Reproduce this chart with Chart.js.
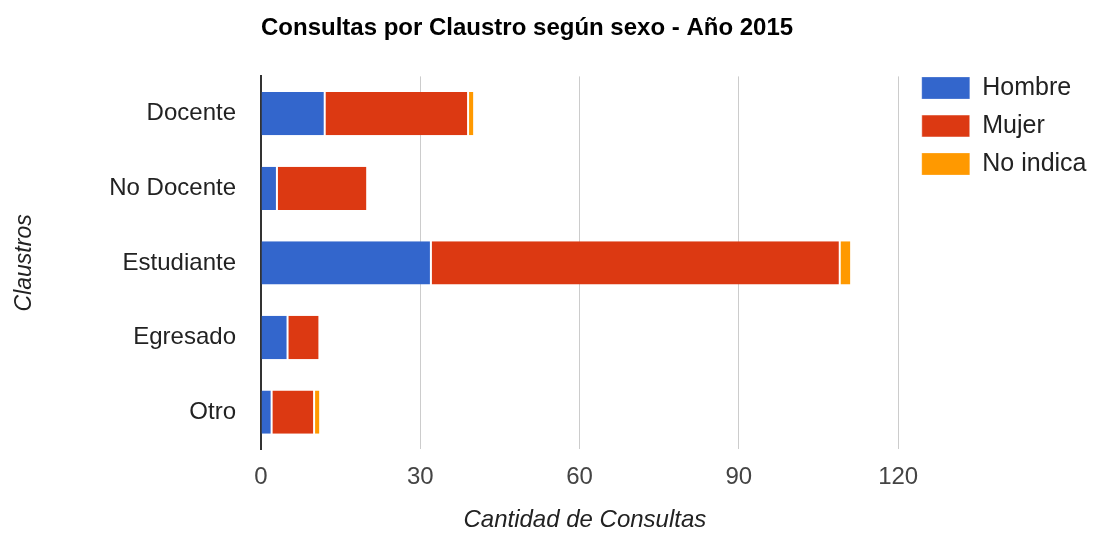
<!DOCTYPE html>
<html lang="es">
<head>
    <meta charset="utf-8">
    <script src="https://cdn.jsdelivr.net/npm/chart.js@4.4.1/dist/chart.umd.min.js"></script>
    <title>Consultas por Claustro</title>
    <style>
        html, body { margin: 0; padding: 0; background: #fff; }
        #wrap { width: 1097px; height: 535px; }
    </style>
</head>
<body>
    <div id="wrap"><canvas id="chart" width="1097" height="535"></canvas></div>
    <script type="text/javascript">
        // datos
        var claustros = ['Docente', 'No Docente', 'Estudiante', 'Egresado', 'Otro'];
        var hombre = [12, 3, 32, 5, 2];
        var mujer = [27, 17, 77, 6, 8];
        var noIndica = [1, 0, 2, 0, 1];
        var xTicks = [0, 30, 60, 90, 120];

        var fuente = 'Liberation Sans, Arial, sans-serif';

        var ctx = document.getElementById('chart');
        var myChart = new Chart(ctx, {
            type: 'bar',
            data: {
                labels: claustros,
                datasets: [
                    { label: 'Hombre', data: hombre, backgroundColor: '#3366cc',
                      borderColor: '#fff', borderWidth: {top: 0, bottom: 0, left: 0, right: 1}, borderSkipped: false },
                    { label: 'Mujer', data: mujer, backgroundColor: '#dc3912',
                      borderColor: '#fff', borderWidth: {top: 0, bottom: 0, left: 1, right: 1}, borderSkipped: false },
                    { label: 'No indica', data: noIndica, backgroundColor: '#ff9900',
                      borderColor: '#fff', borderWidth: {top: 0, bottom: 0, left: 1, right: 0}, borderSkipped: false },
                ],
            },
            options: {
                indexAxis: 'y',
                responsive: false,
                animation: false,
                devicePixelRatio: 1,
                layout: { padding: { left: 0, right: 0.5, top: 0, bottom: 0 } },
                datasets: { bar: { categoryPercentage: 1, barPercentage: 0.58 } },
                plugins: {
                    title: {
                        display: true,
                        fullSize: false,
                        align: 'start',
                        text: 'Consultas por Claustro según sexo - Año 2015',
                        color: '#000',
                        font: { family: fuente, size: 24, weight: 'bold' },
                        padding: { top: 14, bottom: 33.6 },
                    },
                    legend: {
                        position: 'right',
                        align: 'start',
                        // titulo vacio solo para bajar la leyenda
                        title: { display: true, text: '', font: { size: 10, lineHeight: 1 }, padding: { top: 52.5, bottom: 0 } },
                        labels: {
                            boxWidth: 48,
                            boxHeight: 22,
                            padding: 13,
                            color: '#222',
                            font: { family: fuente, size: 25 },
                        },
                    },
                    tooltip: { enabled: false },
                },
                scales: {
                    x: {
                        stacked: true,
                        min: 0,
                        max: 122, // 120 queda sobre la ultima linea
                        afterBuildTicks: function (axis) {
                            axis.ticks = xTicks.map(function (v) { return { value: v }; });
                        },
                        ticks: { color: '#444', padding: 14, font: { family: fuente, size: 24 } },
                        grid: {
                            drawTicks: false,
                            color: function (c) { return c.tick && c.tick.value === 0 ? 'rgba(0,0,0,0)' : '#cccccc'; },
                        },
                        border: { display: false },
                        title: {
                            display: true,
                            text: 'Cantidad de Consultas',
                            color: '#222',
                            font: { family: fuente, size: 24, style: 'italic' },
                            padding: { top: 0, bottom: 0 },
                        },
                    },
                    y: {
                        stacked: true,
                        afterFit: function (axis) { axis.width = 261; },
                        ticks: { color: '#222', padding: 25, font: { family: fuente, size: 24 } },
                        grid: { display: false, drawTicks: false },
                        border: { display: true, color: '#333', width: 2 },
                        title: {
                            display: true,
                            text: 'Claustros',
                            color: '#222',
                            font: { family: fuente, size: 23, style: 'italic' },
                            padding: { top: 11, bottom: 0 },
                        },
                    },
                },
            },
        });
    </script>
</body>
</html>
